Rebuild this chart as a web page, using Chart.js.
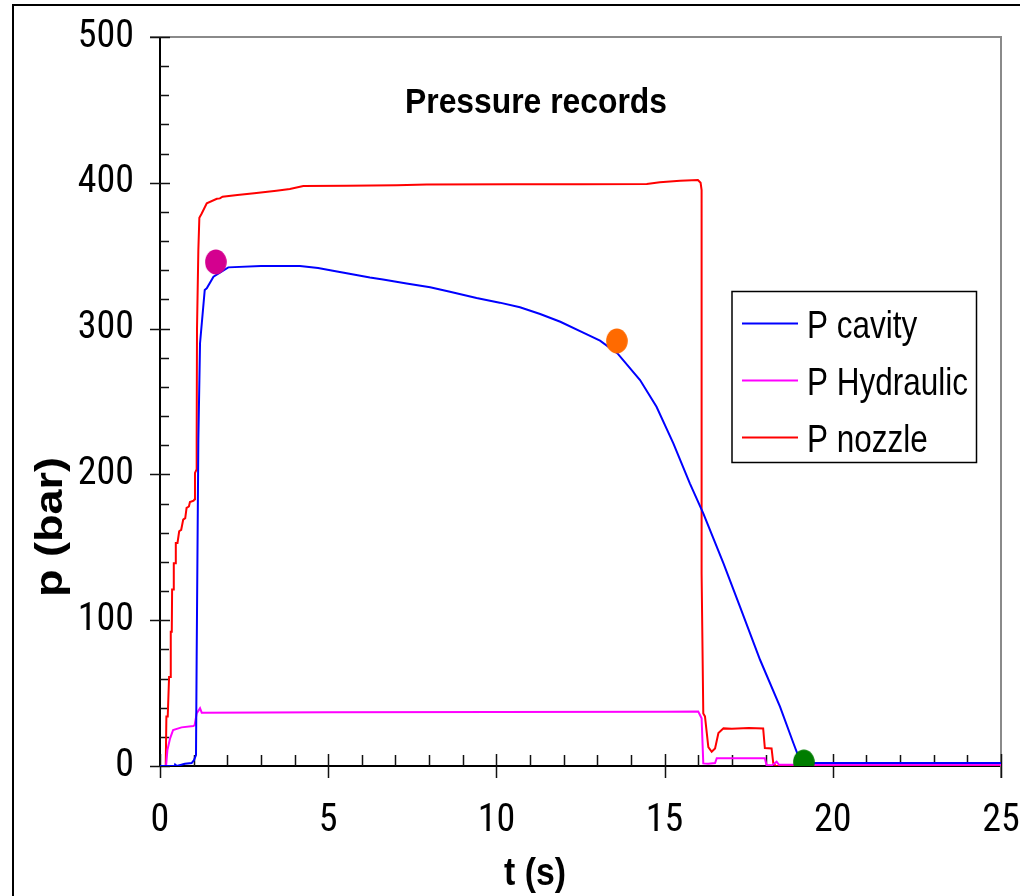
<!DOCTYPE html>
<html><head><meta charset="utf-8">
<script src="https://cdn.jsdelivr.net/npm/chart.js@4.4.0/dist/chart.umd.min.js"></script>
<style>html,body{margin:0;padding:0;background:#fff;} canvas{display:block;}</style>
</head><body>
<canvas id="c" width="1020" height="896"></canvas>
<script>
// ---- data ----
const seriesNames = ['P cavity', 'P Hydraulic', 'P nozzle'];
const seriesColors = ['#0000ff', '#ff00ff', '#ff0000'];

const tCavity = [0,0.44,0.45,0.5,0.74,0.94,1.01,1.07,1.09,1.14,1.19,1.33,1.39,1.59,2.03,3,4.16,4.7,5.14,5.55,6.24,6.63,7.33,8.03,8.62,9.41,10.1,10.7,11.3,11.9,12.58,13.08,13.6,14.27,14.76,15.26,15.75,16.15,16.75,17.24,17.84,18.43,18.83,18.98,19.1,25];
const pCavity = [0,0,1,0,1.5,2,4,7.5,75,224,290,326.5,327.6,335.6,342,343,343,341.6,339.7,337.9,335,333.7,331,328.3,325.3,321,317.8,314.6,310,304.7,297.2,291.7,283,264.7,246.4,221.3,193.9,173.3,139,109.3,72.7,40.7,15.6,6.4,2,2];

const tHydraulic = [0,0.18,0.22,0.30,0.39,0.64,0.99,1.03,1.09,1.19,1.24,5,10,15,16.0,16.1,16.15,16.3,16.5,16.55,17.0,17.98,18.03,18.2,18.33,18.4,25];
const pHydraulic = [0,0,11,19,24.7,26.5,27.4,28,36.1,39.6,36.6,36.8,37,37.2,37.3,32.7,1.8,1.5,2,5.3,5.3,5.3,0.7,0.5,3,0.8,0.8];

const tNozzle = [0,0.17,0.19,0.23,0.27,0.31,0.32,0.35,0.36,0.40,0.41,0.45,0.47,0.52,0.57,0.63,0.69,0.75,0.79,0.86,0.89,1.0,1.03,1.04,1.08,1.09,1.1,1.14,1.17,1.24,1.39,1.69,1.78,1.86,2.3,2.8,3.46,3.86,4.26,5.55,7.04,7.93,10.5,12.5,14.47,14.86,15.46,15.99,16.07,16.10,16.10,16.15,16.2,16.3,16.4,16.5,16.6,16.75,17.0,17.5,17.93,17.98,18.18,18.23,18.3,25];
const pNozzle = [0,0,34,34,61,61,92,92,121,121,139,139,153,153,161,162,169,170,177,178,181,182,183,201,203,224,300,354,376,379,386,389,389.3,390.5,391.6,392.8,394.6,395.7,397.8,398,398.3,398.8,399,399,399.2,400.3,401.4,401.9,400,395,132,36,34,13,9.8,12,22.6,25.8,25.5,26,25.8,12.3,12,2,0,0];

const markerT = [1.66, 13.58, 19.14];
const markerP = [345.7, 291.5, 2.7];
const markerColors = ['#d4008f', '#ff6a00', '#007d00'];

const xTickValues = [0, 5, 10, 15, 20, 25];
const yTickValues = [0, 100, 200, 300, 400, 500];

const titleText = 'Pressure records';
const xTitle = 't (s)';
const yTitle = 'p (bar)';

// ---- helpers ----
const TICKFONT = '"Roboto Condensed", "Liberation Sans", Arial, sans-serif';
const FONT = '"Liberation Sans", Arial, sans-serif';
const pts = (ts, ps) => ts.map((t, i) => ({x: t, y: ps[i]}));

function ellipseImage(color) {
  const c = document.createElement('canvas');
  c.width = 22; c.height = 26;
  const g = c.getContext('2d');
  g.fillStyle = color;
  g.beginPath();
  g.ellipse(11, 13, 10.8, 12.5, 0, 0, Math.PI * 2);
  g.fill();
  return c;
}

// draw text squeezed horizontally to a target width (the reference is a narrow face)
function squeezed(ctx, text, x, y, targetW, align) {
  const w = ctx.measureText(text).width;
  const sx = targetW / w;
  ctx.save();
  ctx.translate(x, y);
  ctx.scale(sx, 1);
  ctx.textAlign = align;
  ctx.fillText(text, 0, 0);
  ctx.restore();
}

const decorPlugin = {
  id: 'decor',
  beforeDatasetsDraw(chart) {
    const {ctx, chartArea: a, scales: {x, y}} = chart;
    ctx.save();
    ctx.strokeStyle = '#8a8a8a';
    ctx.lineWidth = 2;
    ctx.beginPath();
    ctx.moveTo(a.left - 10, a.top); ctx.lineTo(a.right, a.top); ctx.lineTo(a.right, a.bottom + 12);
    ctx.stroke();
    ctx.strokeStyle = '#111';
    ctx.lineWidth = 1.5;
    ctx.beginPath();
    for (let v = 0; v <= 500; v += 20) {
      const py = Math.round(y.getPixelForValue(v)) + 0.5;
      if (v % 100 === 0) { ctx.moveTo(a.left - 10, py); ctx.lineTo(a.left + 10, py); }
      else { ctx.moveTo(a.left, py); ctx.lineTo(a.left + 9, py); }
    }
    for (let v = 0; v <= 25; v += 1) {
      const px = Math.round(x.getPixelForValue(v)) + 0.5;
      if (v % 5 === 0) { ctx.moveTo(px, a.bottom - 12); ctx.lineTo(px, a.bottom + 12); }
      else { ctx.moveTo(px, a.bottom); ctx.lineTo(px, a.bottom - 11); }
    }
    ctx.stroke();
    ctx.restore();
  },
  afterDraw(chart) {
    const {ctx} = chart;
    ctx.save();
    ctx.strokeStyle = '#000';
    ctx.lineWidth = 2;
    ctx.strokeRect(13, 5, 1100, 1000);
    ctx.fillStyle = '#000';
    ctx.textBaseline = 'alphabetic';
    // title
    ctx.font = 'bold 35px ' + FONT;
    squeezed(ctx, titleText, 536, 113, 262, 'center');
    // x axis title
    ctx.font = 'bold 38px ' + FONT;
    squeezed(ctx, xTitle, 535, 885, 62, 'center');
    // y axis title (rotated, squeezed across)
    ctx.save();
    ctx.font = 'bold 45px ' + FONT;
    ctx.translate(62, 527);
    ctx.rotate(-Math.PI / 2);
    ctx.scale(1, 0.85);
    ctx.textAlign = 'center';
    ctx.fillText(yTitle, 0, 0);
    ctx.restore();
    ctx.restore();
    // legend
    ctx.save();
    ctx.strokeStyle = '#000';
    ctx.lineWidth = 1.5;
    ctx.strokeRect(732, 291.5, 244.5, 171);
    ctx.font = '39px ' + FONT;
    ctx.textBaseline = 'alphabetic';
    ctx.fillStyle = '#000';
    const sx = 161 / ctx.measureText(seriesNames[1]).width;
    seriesNames.forEach((name, i) => {
      const ly = 323.5 + i * 57;
      ctx.strokeStyle = seriesColors[i];
      ctx.lineWidth = 2;
      ctx.beginPath(); ctx.moveTo(742, ly); ctx.lineTo(798, ly); ctx.stroke();
      ctx.save();
      ctx.translate(807, ly + 14);
      ctx.scale(sx, 1);
      ctx.textAlign = 'left';
      ctx.fillText(name, 0, 0);
      ctx.restore();
    });
    ctx.restore();
  }
};

const zeroPad = s => { s.paddingLeft = 0; s.paddingRight = 0; s.paddingTop = 0; s.paddingBottom = 0; };

new Chart(document.getElementById('c'), {
  type: 'line',
  data: {
    datasets: [
      {label: seriesNames[0], data: pts(tCavity, pCavity), borderColor: seriesColors[0], borderWidth: 2, pointRadius: 0, tension: 0, fill: false},
      {label: seriesNames[1], data: pts(tHydraulic, pHydraulic), borderColor: seriesColors[1], borderWidth: 2, pointRadius: 0, tension: 0, fill: false},
      {label: seriesNames[2], data: pts(tNozzle, pNozzle), borderColor: seriesColors[2], borderWidth: 2, pointRadius: 0, tension: 0, fill: false},
      {label: 'markers', data: pts(markerT, markerP), showLine: false, order: -1,
       pointStyle: markerColors.map(ellipseImage), pointRadius: 12, backgroundColor: markerColors, borderWidth: 0}
    ]
  },
  options: {
    responsive: false,
    animation: false,
    devicePixelRatio: 1,
    layout: {padding: {top: 37, right: 19, left: 0, bottom: 0}},
    plugins: {legend: {display: false}, tooltip: {enabled: false}},
    scales: {
      x: {
        type: 'linear', min: 0, max: 25,
        afterFit: s => { s.height = 130; zeroPad(s); },
        afterBuildTicks: s => { s.ticks = xTickValues.map(v => ({value: v})); },
        grid: {display: false},
        border: {display: true, color: '#000', width: 2},
        ticks: {color: '#000', font: {family: TICKFONT, size: 38}, padding: 25, maxRotation: 0}
      },
      y: {
        type: 'linear', min: 0, max: 500,
        afterFit: s => { s.width = 160; zeroPad(s); },
        afterBuildTicks: s => { s.ticks = yTickValues.map(v => ({value: v})); },
        grid: {display: false},
        border: {display: true, color: '#000', width: 2},
        ticks: {color: '#000', font: {family: TICKFONT, size: 38}, padding: 18}
      }
    }
  },
  plugins: [decorPlugin]
});
</script></body></html>
